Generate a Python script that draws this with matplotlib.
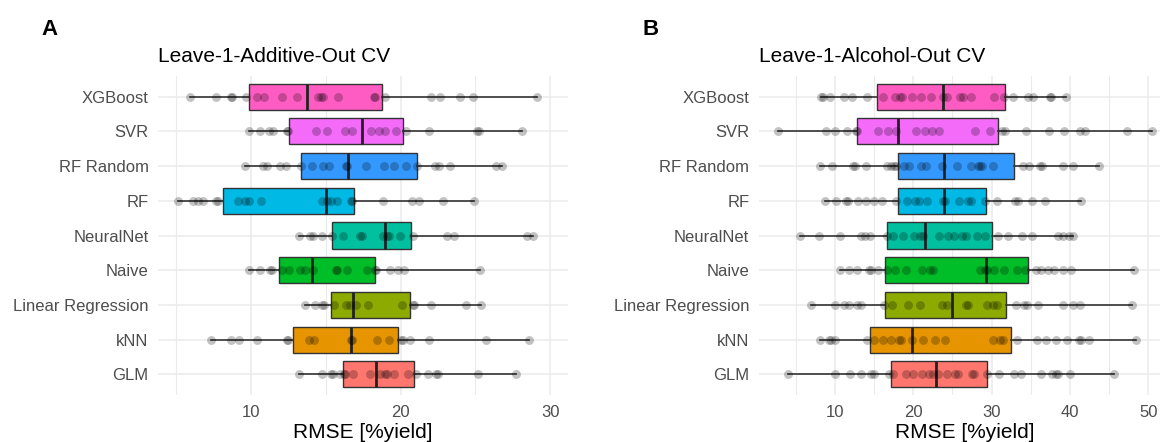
import matplotlib
matplotlib.use("Agg")
import matplotlib.pyplot as plt
from matplotlib.ticker import MultipleLocator

plt.rcParams['font.family'] = ['Liberation Sans', 'DejaVu Sans']

# categories, bottom to top
models = ["GLM", "kNN", "Linear Regression", "Naive", "NeuralNet",
          "RF", "RF Random", "SVR", "XGBoost"]
colors = ["#FF766E", "#E69500", "#8CAA00", "#00BE28", "#00C0A0",
          "#00BAE5", "#3399FF", "#F46BFA", "#FF5CC3"]

# ---------------- Panel A: Leave-1-Additive-Out CV ----------------
A_q1  = [16.16, 12.80, 15.34, 11.87, 15.43, 8.13, 13.34, 12.54, 9.91]
A_med = [18.34, 16.72, 16.85, 14.07, 18.99, 15.01, 16.52, 17.41, 13.78]
A_q3  = [20.88, 19.83, 20.63, 18.32, 20.70, 16.92, 21.12, 20.17, 18.77]
A_lo  = [13.23, 7.37, 13.60, 9.89, 13.20, 5.13, 9.62, 9.91, 5.95]
A_hi  = [27.69, 28.60, 25.37, 25.33, 28.84, 24.91, 26.80, 28.13, 29.13]

A_GLM = [13.23, 14.72, 15.38, 15.47, 15.94, 16.21, 16.27, 16.85, 17.94, 18.61,
         18.97, 19.10, 19.57, 20.50, 21.03, 21.81, 22.35, 22.52, 25.19, 27.69]
A_kNN = [7.37, 8.69, 9.18, 10.38, 12.40, 12.45, 13.87, 14.23, 16.70, 16.74,
         18.43, 19.21, 20.06, 20.17, 20.66, 21.90, 25.68, 28.60]
A_LinReg = [13.60, 14.27, 14.76, 14.87, 15.56, 16.38, 16.61, 17.05, 17.85,
            20.12, 20.83, 20.90, 22.06, 24.39, 25.37]
A_Naive = [9.89, 10.62, 11.31, 11.40, 12.05, 12.56, 13.29, 13.63, 14.16, 15.67,
           15.74, 16.43, 17.74, 18.28, 18.39, 19.28, 19.83, 20.23, 25.33]
A_NeuralNet = [13.20, 13.96, 14.14, 14.74, 15.43, 16.16, 17.32, 17.43, 18.83,
               19.10, 19.23, 19.99, 20.83, 23.10, 23.55, 28.42, 28.84]
A_RF = [5.13, 6.11, 6.44, 6.82, 7.66, 7.78, 9.15, 9.64, 9.89, 10.65, 14.78,
        15.09, 15.32, 15.78, 16.70, 16.76, 18.85, 20.79, 21.21, 22.84, 24.91]
A_RFRandom = [9.62, 10.82, 11.07, 11.98, 12.38, 13.34, 14.07, 14.83, 15.21,
              16.34, 16.45, 17.72, 18.92, 19.57, 20.34, 21.08, 22.32, 22.57,
              23.28, 26.37, 26.80]
A_SVR = [9.91, 10.62, 11.22, 11.49, 12.40, 12.45, 14.36, 15.07, 16.32, 16.76,
         18.01, 18.54, 18.97, 19.68, 20.34, 21.88, 25.11, 25.22, 28.13]
A_XGBoost = [5.95, 7.69, 8.67, 8.71, 9.67, 10.38, 10.87, 12.07, 13.07, 14.49,
             14.69, 14.85, 15.85, 18.23, 18.30, 18.94, 22.01, 22.61, 23.97,
             24.86, 29.13]

# ---------------- Panel B: Leave-1-Alcohol-Out CV ----------------
B_q1  = [17.23, 14.51, 16.38, 16.38, 16.60, 18.04, 18.09, 12.89, 15.36]
B_med = [22.89, 19.91, 24.89, 29.28, 21.57, 23.91, 23.91, 18.04, 23.83]
B_q3  = [29.45, 32.47, 31.87, 34.64, 30.00, 29.32, 32.81, 30.77, 31.66]
B_lo  = [4.04, 8.17, 7.02, 10.72, 5.53, 8.77, 8.17, 2.72, 8.30]
B_hi  = [45.66, 48.38, 47.87, 48.17, 40.34, 41.36, 43.70, 50.43, 39.53]

B_GLM = [4.04, 10.00, 11.96, 13.40, 14.68, 14.98, 16.94, 17.45, 19.02, 20.00,
         21.15, 22.04, 22.55, 23.11, 24.26, 25.28, 25.74, 27.45, 27.74, 29.45,
         30.89, 32.89, 33.79, 36.30, 37.66, 38.21, 38.51, 40.00, 45.66]
B_kNN = [8.17, 9.23, 9.57, 10.04, 14.13, 14.98, 16.09, 17.23, 18.21, 18.43,
         19.91, 21.19, 22.77, 24.04, 30.21, 31.06, 31.49, 33.19, 35.74, 36.94,
         38.21, 39.57, 41.19, 41.40, 42.43, 48.38]
B_LinReg = [7.02, 10.00, 11.19, 11.79, 12.77, 13.32, 16.34, 17.32, 19.40, 20.85,
            23.70, 24.34, 26.72, 26.94, 29.36, 30.21, 30.72, 33.11, 34.17,
            34.47, 35.91, 39.15, 40.43, 41.28, 47.87]
B_Naive = [10.72, 11.79, 12.77, 14.30, 14.64, 15.53, 16.60, 17.74, 19.06, 21.11,
           22.13, 22.55, 28.51, 29.19, 29.45, 30.34, 31.57, 33.28, 34.30, 35.62,
           36.26, 37.15, 38.00, 39.06, 40.09, 48.17]
B_NeuralNet = [5.53, 7.96, 10.72, 13.28, 13.83, 14.55, 16.60, 17.45, 18.68,
               20.04, 20.89, 21.19, 23.32, 24.47, 25.19, 26.17, 26.72, 28.17,
               29.15, 30.85, 32.13, 33.83, 35.19, 38.51, 39.15, 39.87, 40.34]
B_RF = [8.77, 10.21, 11.49, 11.74, 12.94, 14.04, 15.02, 16.04, 17.87, 19.23,
        20.21, 20.68, 21.74, 23.83, 24.09, 25.83, 27.02, 27.36, 29.19, 30.64,
        32.98, 33.32, 35.15, 36.81, 41.36]
B_RFRandom = [8.17, 9.66, 12.34, 12.64, 14.00, 16.68, 17.19, 17.57, 17.87,
              18.85, 19.49, 21.02, 21.62, 23.62, 25.53, 27.40, 28.21, 28.51,
              28.81, 30.17, 34.04, 34.81, 36.17, 36.47, 39.15, 40.34, 43.70]
B_SVR = [2.72, 8.85, 10.00, 11.62, 12.68, 12.85, 15.57, 16.77, 17.87, 20.38,
         21.57, 22.43, 23.23, 27.87, 29.79, 31.32, 31.70, 34.38, 37.28, 39.23,
         41.32, 41.96, 47.28, 50.43]
B_XGBoost = [8.30, 8.51, 9.36, 11.15, 12.17, 14.13, 16.17, 17.70, 18.30, 18.55,
             19.83, 21.06, 22.21, 23.83, 24.30, 25.96, 26.38, 27.36, 30.26,
             31.57, 32.77, 34.60, 35.32, 37.45, 37.53, 39.53]

A_points = [A_GLM, A_kNN, A_LinReg, A_Naive, A_NeuralNet, A_RF, A_RFRandom,
            A_SVR, A_XGBoost]
B_points = [B_GLM, B_kNN, B_LinReg, B_Naive, B_NeuralNet, B_RF, B_RFRandom,
            B_SVR, B_XGBoost]

W, H = 1160, 442
fig = plt.figure(figsize=(W / 100, H / 100), dpi=100)


def px_axes(left, right, top, bottom):
    return fig.add_axes([left / W, (H - bottom) / H, (right - left) / W,
                         (bottom - top) / H])


def draw_panel(ax, q1, med, q3, lo, hi, pts, xlim, major, minor):
    stats = []
    for i in range(len(models)):
        stats.append(dict(q1=q1[i], med=med[i], q3=q3[i],
                          whislo=lo[i], whishi=hi[i], fliers=[]))
    pos = list(range(1, len(models) + 1))
    bp = ax.bxp(stats, positions=pos, vert=False, widths=0.75,
                patch_artist=True, showfliers=False, showcaps=False,
                boxprops=dict(edgecolor="#333333", linewidth=1.0),
                whiskerprops=dict(color="#333333", linewidth=1.2),
                medianprops=dict(color="#222222", linewidth=2.0))
    for patch, c in zip(bp['boxes'], colors):
        patch.set_facecolor(c)
        patch.set_zorder(2)
    for ln in bp['whiskers'] + bp['medians']:
        ln.set_zorder(2.5)
    for p, vals in zip(pos, pts):
        ax.plot(vals, [p] * len(vals), 'o', color='black', alpha=0.24,
                markersize=6.4, markeredgewidth=0, zorder=3)
    ax.set_xlim(*xlim)
    ax.set_ylim(0.4, len(models) + 0.6)
    ax.set_yticks(pos)
    ax.set_yticklabels(models)
    ax.xaxis.set_major_locator(MultipleLocator(major))
    ax.xaxis.set_minor_locator(MultipleLocator(minor))
    ax.grid(True, which='major', color='#EBEBEB', linewidth=1.1, zorder=0)
    ax.grid(True, which='minor', axis='x', color='#EBEBEB', linewidth=0.8,
            zorder=0)
    ax.set_axisbelow(True)
    for s in ax.spines.values():
        s.set_visible(False)
    ax.tick_params(axis='both', which='both', length=0, labelsize=12,
                   labelcolor='#4D4D4D')
    ax.tick_params(axis='y', pad=7)
    ax.tick_params(axis='x', pad=7)


axA = px_axes(158.3, 568, 76, 395)
draw_panel(axA, A_q1, A_med, A_q3, A_lo, A_hi, A_points, (3.82, 31.18), 10, 5)
axB = px_axes(759, 1170.3, 76, 395)
draw_panel(axB, B_q1, B_med, B_q3, B_lo, B_hi, B_points, (0.33, 52.8), 10, 5)

fig.text(158.3 / W, (H - 61.7) / H, "Leave-1-Additive-Out CV", fontsize=15,
         va='baseline', ha='left')
fig.text(759 / W, (H - 61.7) / H, "Leave-1-Alcohol-Out CV", fontsize=15,
         va='baseline', ha='left')
fig.text(41 / W, (H - 35) / H, "A", fontsize=16, fontweight='bold',
         va='baseline', ha='left')
fig.text(643 / W, (H - 35) / H, "B", fontsize=16, fontweight='bold',
         va='baseline', ha='left')
fig.text((158.3 + 568) / 2 / W, (H - 438.3) / H, "RMSE [%yield]", fontsize=15,
         va='baseline', ha='center')
fig.text((759 + 1170.3) / 2 / W, (H - 438.3) / H, "RMSE [%yield]", fontsize=15,
         va='baseline', ha='center')

fig.savefig("out.png", dpi=100)
